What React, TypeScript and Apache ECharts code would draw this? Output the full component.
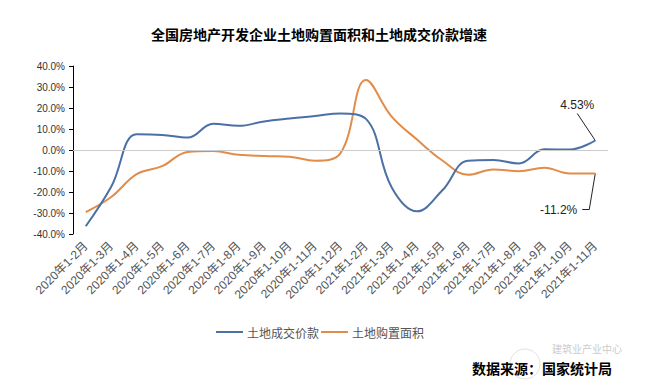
import React, { useEffect, useRef } from "react";
import * as echarts from "echarts";

const categories = [
  "2020年1-2月", "2020年1-3月", "2020年1-4月", "2020年1-5月", "2020年1-6月",
  "2020年1-7月", "2020年1-8月", "2020年1-9月", "2020年1-10月", "2020年1-11月",
  "2020年1-12月", "2021年1-2月", "2021年1-3月", "2021年1-4月", "2021年1-5月",
  "2021年1-6月", "2021年1-7月", "2021年1-8月", "2021年1-9月", "2021年1-10月",
  "2021年1-11月",
];

const landValue = [
  -36.3, -17.5, 7.5, 7.2, 5.9, 12.5, 11.5, 13.6, 15.0, 16.2, 17.4,
  14.8, -17.6, -29.2, -19.2, -5.1, -4.8, -6.4, 0.3, 0.2, 4.53,
];

const landArea = [
  -29.6, -22.4, -11.5, -7.7, -0.9, -0.5, -2.3, -2.9, -3.2, -5.1, -1.5,
  33.3, 16.0, 5.0, -5.0, -11.8, -9.3, -10.1, -8.5, -11.2, -11.2,
];

const seriesNames = ["土地成交价款", "土地购置面积"];
const titleText = "全国房地产开发企业土地购置面积和土地成交价款增速";
const sourceText = "数据来源：国家统计局";
const watermarkText = "建筑业产业中心";

const FONT = "Liberation Sans, Arial, Noto Sans CJK SC, sans-serif";
const CJK = "Noto Sans CJK SC, sans-serif";
const BLUE = "#4a70a6";
const ORANGE = "#e28c4a";

export default function App() {
  const ref = useRef<HTMLDivElement>(null);
  useEffect(() => {
    document.body.style.margin = "0";
    if (!ref.current) return;
    const chart = echarts.init(ref.current, undefined, { renderer: "svg" });
    chart.setOption({
      animation: false,
      backgroundColor: "#ffffff",
      title: {
        text: titleText,
        left: 146,
        top: 22,
        textStyle: { fontSize: 14, fontWeight: "bold", color: "#000", fontFamily: CJK },
      },
      legend: {
        left: 211,
        top: 321,
        icon: "rect",
        itemWidth: 27,
        itemHeight: 2,
        itemGap: 2,
        textStyle: { fontSize: 12, color: "#555", fontFamily: CJK, padding: [0, 0, 0, -1] },
        data: seriesNames,
      },
      grid: { left: 73, right: 45, top: 66, bottom: 155, containLabel: false },
      xAxis: {
        type: "category",
        data: categories,
        boundaryGap: true,
        axisLine: { show: false },
        axisTick: { show: false },
        axisLabel: {
          interval: 0,
          rotate: 45,
          margin: 10,
          fontSize: 12,
          color: "#555",
          fontFamily: FONT,
        },
      },
      yAxis: {
        type: "value",
        min: -40,
        max: 40,
        interval: 10,
        axisLine: { show: true, lineStyle: { color: "#000", width: 1 } },
        axisTick: { show: true, length: 4, lineStyle: { color: "#000" } },
        splitLine: { show: false },
        axisLabel: {
          margin: 8,
          fontSize: 10,
          color: "#333",
          fontFamily: FONT,
          formatter: (v: number) => v.toFixed(1) + "%",
        },
      },
      series: [
        {
          name: seriesNames[0],
          type: "line",
          data: landValue,
          smooth: 0.4,
          symbol: "none",
          lineStyle: { color: BLUE, width: 2 },
          itemStyle: { color: BLUE },
          z: 3,
          markLine: {
            silent: true,
            symbol: "none",
            label: { show: false },
            lineStyle: { color: "#cccccc", width: 1, type: "solid" },
            data: [{ yAxis: 0 }],
          },
        },
        {
          name: seriesNames[1],
          type: "line",
          data: landArea,
          smooth: 0.4,
          symbol: "none",
          lineStyle: { color: ORANGE, width: 2 },
          itemStyle: { color: ORANGE },
          z: 2,
        },
      ],
    });

    const last = categories.length - 1;
    const p1 = chart.convertToPixel({ seriesIndex: 0 }, [last, landValue[last]]) as number[];
    const p2 = chart.convertToPixel({ seriesIndex: 1 }, [last, landArea[last]]) as number[];
    chart.setOption({
      graphic: [
        {
          type: "text",
          x: p1[0] - 18,
          y: p1[1] - 35,
          style: {
            text: landValue[last].toFixed(2) + "%",
            fontSize: 12,
            fontFamily: FONT,
            fill: "#222",
            align: "center",
            verticalAlign: "middle",
          },
        },
        {
          type: "polyline",
          shape: { points: [[p1[0] - 18, p1[1] - 27], [p1[0], p1[1]]] },
          style: { stroke: "#222", lineWidth: 1, fill: "none" },
        },
        {
          type: "text",
          x: p2[0] - 18,
          y: p2[1] + 36,
          style: {
            text: landArea[last].toFixed(1) + "%",
            fontSize: 12,
            fontFamily: FONT,
            fill: "#222",
            align: "right",
            verticalAlign: "middle",
          },
        },
        {
          type: "polyline",
          shape: {
            points: [[p2[0] - 13, p2[1] + 36], [p2[0] - 6, p2[1] + 36], [p2[0], p2[1]]],
          },
          style: { stroke: "#222", lineWidth: 1, fill: "none" },
        },
        {
          type: "circle",
          shape: { cx: 525, cy: 364, r: 15 },
          style: { stroke: "#e2e2e2", lineWidth: 1, fill: "none" },
          z: 1,
        },
        {
          type: "text",
          x: 552,
          y: 343,
          style: { text: watermarkText, fontSize: 10, fill: "#cccccc", fontFamily: CJK },
          z: 1,
        },
        {
          type: "text",
          x: 472,
          y: 361,
          style: {
            text: sourceText,
            fontSize: 14,
            fontWeight: "bold",
            fill: "#000",
            fontFamily: CJK,
          },
          z: 5,
        },
      ],
    });

    return () => chart.dispose();
  }, []);
  return <div ref={ref} style={{ width: 653, height: 389 }} />;
}
